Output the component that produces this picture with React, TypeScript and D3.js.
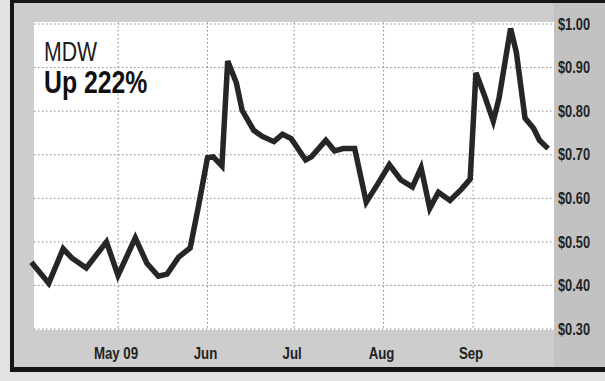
import React from "react";
import * as d3 from "d3";

const W = 605;
const H = 381;

const ticker = "MDW";
const changeText = "Up 222%";

const dates = [
  "2009-04-01", "2009-04-07", "2009-04-12", "2009-04-15", "2009-04-20", "2009-04-27",
  "2009-05-01", "2009-05-07", "2009-05-11", "2009-05-15", "2009-05-18", "2009-05-22",
  "2009-05-26", "2009-05-29", "2009-06-01", "2009-06-03", "2009-06-06", "2009-06-08",
  "2009-06-11", "2009-06-13", "2009-06-17", "2009-06-20", "2009-06-24", "2009-06-27",
  "2009-06-30", "2009-07-05", "2009-07-07", "2009-07-12", "2009-07-15", "2009-07-18",
  "2009-07-22", "2009-07-26", "2009-07-30", "2009-08-03", "2009-08-07", "2009-08-11",
  "2009-08-14", "2009-08-17", "2009-08-20", "2009-08-24", "2009-08-28", "2009-08-31",
  "2009-09-02", "2009-09-05", "2009-09-08", "2009-09-10", "2009-09-14", "2009-09-16",
  "2009-09-19", "2009-09-22", "2009-09-24", "2009-09-27",
];

const prices = [
  0.453, 0.405, 0.484, 0.463, 0.44, 0.5,
  0.423, 0.509, 0.451, 0.421, 0.426, 0.465,
  0.486, 0.586, 0.693, 0.695, 0.674, 0.915,
  0.865, 0.802, 0.756, 0.742, 0.73, 0.747,
  0.737, 0.688, 0.695, 0.733, 0.709, 0.714,
  0.714, 0.591, 0.633, 0.677, 0.642, 0.626,
  0.67, 0.577, 0.614, 0.595, 0.621, 0.644,
  0.888, 0.835, 0.777, 0.83, 0.99, 0.935,
  0.784, 0.76, 0.733, 0.714,
];

const yTicks = [0.3, 0.4, 0.5, 0.6, 0.7, 0.8, 0.9, 1.0];
const yTickLabels = ["$0.30", "$0.40", "$0.50", "$0.60", "$0.70", "$0.80", "$0.90", "$1.00"];

const monthTicks = ["2009-05-01", "2009-06-01", "2009-07-01", "2009-08-01", "2009-09-01"];
const monthLabels = ["May 09", "Jun", "Jul", "Aug", "Sep"];

const font = "'Liberation Sans', Arial, sans-serif";

function NText(props: {
  x: number;
  y: number;
  sx?: number;
  size: number;
  bold?: boolean;
  anchor?: "start" | "middle" | "end";
  dy?: string;
  fill?: string;
  children: React.ReactNode;
}) {
  const { x, y, sx = 0.8, size, bold, anchor = "start", dy, fill = "#1c1c1c", children } = props;
  return (
    <text
      transform={`translate(${x},${y}) scale(${sx},1)`}
      dy={dy}
      textAnchor={anchor}
      fontFamily={font}
      fontSize={size}
      fontWeight={bold ? "bold" : "normal"}
      fill={fill}
    >
      {children}
    </text>
  );
}

export default function App() {
  const parse = d3.utcParse("%Y-%m-%d");
  const x = d3
    .scaleUtc()
    .domain([parse("2009-04-01") as Date, parse("2009-09-28") as Date])
    .range([31.4, 551]);
  const y = d3.scaleLinear().domain([0.3, 1.0]).range([329, 24]);

  const pts: [Date, number][] = dates.map((d, i) => [parse(d) as Date, prices[i]]);
  const line = d3
    .line<[Date, number]>()
    .x((d) => x(d[0]))
    .y((d) => y(d[1]))
    .curve(d3.curveLinear);

  const plotL = 34;
  const plotR = 554;
  const plotT = 22;
  const plotB = 330;

  return (
    <svg
      width={W}
      height={H}
      viewBox={`0 0 ${W} ${H}`}
      style={{ position: "absolute", left: 0, top: 0, display: "block" }}
    >
      {/* outer background */}
      <rect x={0} y={0} width={W} height={H} fill="#e2e2e2" />
      {/* inner grey panel */}
      <rect x={14} y={3} width={W - 14} height={365} fill="#cdcdcd" />
      <rect x={plotR} y={3} width={W - plotR} height={365} fill="#c2c2c2" />
      {/* black frame */}
      <rect x={10} y={0} width={4} height={372} fill="#151515" />
      <rect x={10} y={0} width={W - 10} height={3} fill="#151515" />
      <rect x={10} y={367} width={W - 10} height={5} fill="#151515" />

      {/* white plot area */}
      <rect x={plotL} y={plotT} width={plotR - plotL} height={plotB - plotT} fill="#ffffff" />

      {/* horizontal grid */}
      {yTicks.map((t) => (
        <line
          key={"h" + t}
          x1={plotL}
          x2={plotR}
          y1={y(t)}
          y2={y(t)}
          stroke="#8a8a8a"
          strokeWidth={1}
          strokeDasharray="1.5 2.5"
        />
      ))}
      {/* vertical grid */}
      {monthTicks.map((m) => {
        const xv = x(parse(m) as Date);
        return (
          <line
            key={"v" + m}
            x1={xv}
            x2={xv}
            y1={plotT}
            y2={plotB}
            stroke="#8a8a8a"
            strokeWidth={1}
            strokeDasharray="1.5 2.5"
          />
        );
      })}

      {/* price line */}
      <path
        d={line(pts) || ""}
        fill="none"
        stroke="#262626"
        strokeWidth={5.5}
        strokeLinejoin="miter"
        strokeMiterlimit={4}
      />

      {/* title */}
      <NText x={44} y={61} size={28} sx={0.76}>
        {ticker}
      </NText>
      <NText x={44} y={93} size={31} sx={0.8} bold fill="#111">
        {changeText}
      </NText>

      {/* y labels */}
      {yTicks.map((t, i) => (
        <NText key={"yl" + t} x={558} y={y(t)} dy="0.36em" size={16} sx={0.8} bold fill="#222">
          {yTickLabels[i]}
        </NText>
      ))}

      {/* month labels */}
      {monthTicks.map((m, i) => (
        <NText
          key={"ml" + m}
          x={x(parse(m) as Date) - 2}
          y={359}
          size={17}
          sx={0.78}
          bold
          anchor="middle"
          fill="#222"
        >
          {monthLabels[i]}
        </NText>
      ))}
    </svg>
  );
}
